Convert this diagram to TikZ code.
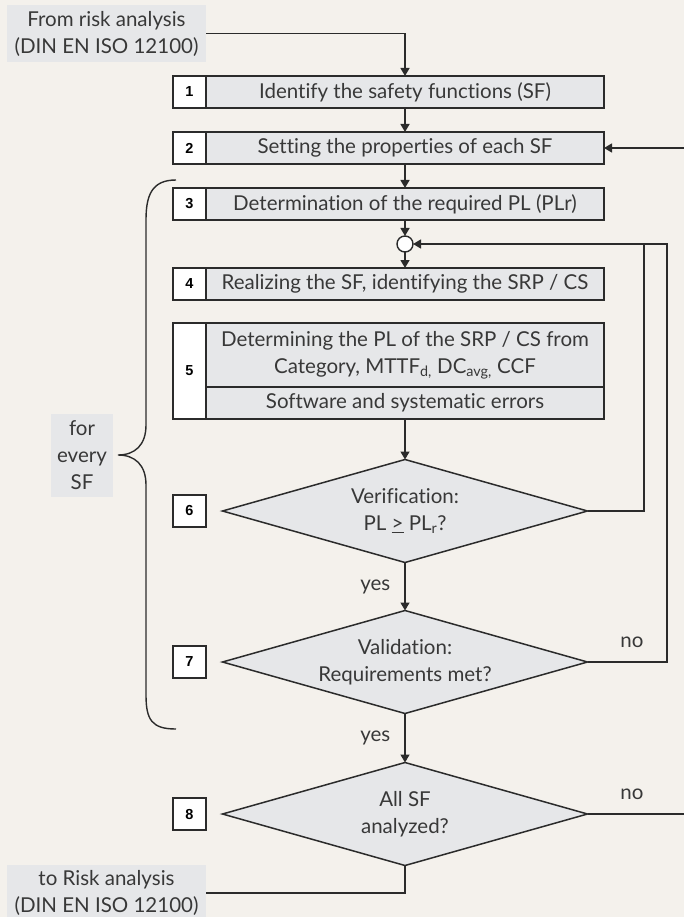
\documentclass[tikz,border=0pt]{standalone}
\usepackage{fontspec}
\setmainfont{Lato}[Ligatures=NoCommon]
\newfontfamily\numfont{Liberation Sans}
\usetikzlibrary{arrows.meta, shapes.geometric, positioning, quotes}
\definecolor{bgcol}{HTML}{F4F1EC}
\definecolor{boxgray}{HTML}{E6E7E9}
\definecolor{linecol}{HTML}{2B2B2B}
\definecolor{textcol}{HTML}{383838}
\newcommand\stepfont{\fontsize{20.5}{27}\selectfont}
\tikzstyle{every picture} = [x=1pt, y=-1pt]
\tikzstyle{numbox} = [draw=linecol, line width=1.5pt, fill=white, minimum width=33pt, minimum height=32pt, inner sep=0pt, outer sep=0pt, font=\numfont\bfseries\fontsize{14.5}{14.5}\selectfont, text=black]
\tikzstyle{stepbox} = [draw=linecol, line width=1.5pt, fill=boxgray, minimum width=398pt, minimum height=32pt, inner sep=0pt, outer sep=0pt, font=\stepfont, text=textcol, align=center]
\tikzstyle{infobox} = [fill=boxgray, minimum width=199pt, minimum height=57pt, inner sep=0pt, outer sep=0pt, font=\stepfont, text=textcol, align=center]
\tikzstyle{decision} = [diamond, draw=linecol, line width=1.5pt, fill=boxgray, minimum width=365pt, minimum height=103pt, aspect=3.54, inner sep=0pt, outer sep=0pt, font=\stepfont, text=textcol, align=center]
\tikzstyle{line} = [draw=linecol, line width=1.4pt]
\tikzstyle{flow} = [line, -{Triangle[length=8pt, width=9pt]}]
\tikzstyle{lbl} = [font=\stepfont, text=textcol, inner sep=0pt]

\begin{document}
\begin{tikzpicture}
    \useasboundingbox (0,0) rectangle (684,917);
    \fill[bgcol] (0,0) rectangle (684,917);

    % start and end
    \node (from) [infobox] at (106.5,33.5) {From risk analysis\\(DIN EN ISO 12100)};
    \node (to) [infobox, minimum height=56pt] at (106.5,893) {to Risk analysis\\(DIN EN ISO 12100)};

    % steps 1-5
    \node (num 1) [numbox] at (189.5,92) {1};
    \node (box 1) [stepbox, right=0pt of num 1] {Identify the safety functions (SF)};
    \node (num 2) [numbox] at (189.5,148) {2};
    \node (box 2) [stepbox, right=0pt of num 2] {Setting the properties of each SF};
    \node (num 3) [numbox] at (189.5,204) {3};
    \node (box 3) [stepbox, right=0pt of num 3] {Determination of the required PL (PLr)};
    \node (join) [circle, draw=linecol, line width=1.4pt, fill=white, minimum size=16pt, inner sep=0pt, outer sep=0pt] at (405,244) {};
    \node (num 4) [numbox] at (189.5,284) {4};
    \node (box 4) [stepbox, right=0pt of num 4] {Realizing the SF, identifying the SRP / CS};
    \node (num 5) [numbox, minimum height=96pt] at (189.5,371) {5};
    \node (box 5a) [stepbox, minimum height=64pt, anchor=north west] at (num 5.north east)
        {Determining the PL of the SRP / CS from\\Category, MTTF\textsubscript{d,} DC\textsubscript{avg,} CCF};
    \node (box 5b) [stepbox, below=0pt of box 5a] {Software and systematic errors};

    % checks 6-8
    \node (num 6) [numbox] at (189.5,511) {6};
    \node (check 6) [decision] at (405,511) {Verification:\\PL \underline{>} PL\textsubscript{r}?};
    \node (num 7) [numbox] at (189.5,662) {7};
    \node (check 7) [decision] at (405,662) {Validation:\\Requirements met?};
    \node (num 8) [numbox] at (189.5,814) {8};
    \node (check 8) [decision] at (405,814) {All SF\\analyzed?};

    \coordinate (loop in) at (644,244);
    \coordinate (loop out) at (667,244);
    \coordinate (edge 2) at (684,148);
    \coordinate (edge 8) at (684,814);

    \draw[flow] (from.east) -| (box 1.north);
    \path (box 1) edge[flow] (box 2)
          (box 2) edge[flow] (box 3)
          (box 3) edge[flow] (join)
          (join) edge[flow] (box 4)
          (box 5b) edge[flow] (check 6)
          (check 6) edge[flow] node[lbl, left=14pt] {yes} (check 7)
          (check 7) edge[flow] node[lbl, left=14pt] {yes} (check 8);
    \draw[line] (check 6.east) -| (loop in);
    \draw[flow] (check 7.east) -- node[lbl, above=14pt, pos=0.56] {no} (check 7.east -| loop out) -- (loop out) -- (join.east);
    \draw[line] (check 8.east) -- node[lbl, above=14pt, pos=0.46] {no} (edge 8);
    \draw[flow] (edge 2) -- (box 2.east);
    \draw[line] (check 8.south) |- (to.east);

    % for every SF
    \draw[line] (176,180) .. controls (152,180) and (146,195) .. (146,220) -- (146,425)
        .. controls (146,445) and (135,455) .. (118,455)
        .. controls (135,455) and (146,465) .. (146,485) -- (146,695)
        .. controls (146,720) and (152,729) .. (176,729);
    \node (every) [infobox, minimum width=62pt, minimum height=83pt] at (82,455.5) {for\\every\\SF};
\end{tikzpicture}
\end{document}
